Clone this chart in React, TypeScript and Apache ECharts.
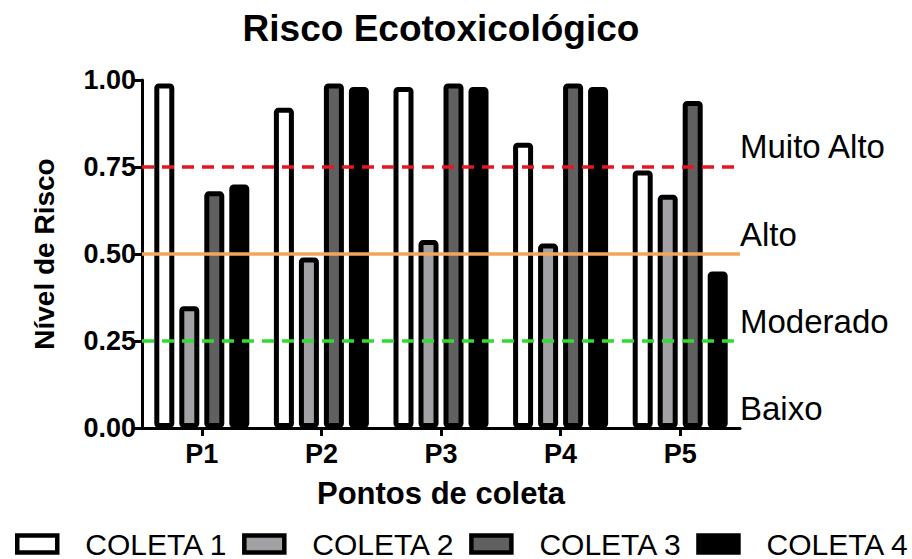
import React, { useEffect, useRef } from "react";
import * as echarts from "echarts";

const categories = ["P1", "P2", "P3", "P4", "P5"];
const seriesNames = ["COLETA 1", "COLETA 2", "COLETA 3", "COLETA 4"];
const coleta1 = [0.99, 0.92, 0.98, 0.82, 0.74];
const coleta2 = [0.35, 0.49, 0.54, 0.53, 0.67];
const coleta3 = [0.68, 0.99, 0.99, 0.99, 0.94];
const coleta4 = [0.7, 0.98, 0.98, 0.98, 0.45];
const seriesColors = ["#ffffff", "#a2a2a6", "#606060", "#000000"];
const thresholdValues = [0.75, 0.5, 0.25];
const thresholdColors = ["#e5171f", "#f4a55c", "#2fdc2f"];
const thresholdTypes: any[] = [[12, 8], "solid", [12, 8]];
const zoneLabels = ["Muito Alto", "Alto", "Moderado", "Baixo"];
const zoneLabelValues = [0.81, 0.555, 0.305, 0.057];

const FONT = "'Liberation Sans', Arial, Helvetica, sans-serif";

export default function App() {
  const ref = useRef<HTMLDivElement>(null);
  useEffect(() => {
    if (!ref.current) return;
    const chart = echarts.init(ref.current, undefined, { renderer: "svg" });
    const allData = [coleta1, coleta2, coleta3, coleta4];
    const series: any[] = seriesNames.map((name, i) => ({
      name,
      type: "bar",
      data: allData[i],
      barWidth: 20,
      barGap: "25%",
      itemStyle: {
        color: seriesColors[i],
        borderColor: "#000",
        borderWidth: 5,
        borderRadius: 2,
      },
      emphasis: { disabled: true },
      z: 2,
    }));
    series[0].markLine = {
      silent: true,
      symbol: ["none", "none"],
      label: { show: false },
      z: 5,
      data: thresholdValues.map((v, i) => ({
        yAxis: v,
        lineStyle: { color: thresholdColors[i], width: 3.5, type: thresholdTypes[i] },
      })),
    };
    chart.setOption({
      animation: false,
      textStyle: { fontFamily: FONT },
      title: {
        text: "Risco Ecotoxicológico",
        left: 441,
        top: 10,
        padding: 0,
        textAlign: "center",
        textStyle: { fontFamily: FONT, fontWeight: "bold", fontSize: 37, color: "#000" },
      },
      grid: { left: 142, top: 80, right: 172, bottom: 131, containLabel: false },
      legend: {
        data: seriesNames,
        left: 15,
        top: 529,
        padding: 0,
        icon: "rect",
        itemWidth: 40,
        itemHeight: 17,
        itemGap: 14,
        itemStyle: { borderColor: "#000", borderWidth: 4.5 },
        textStyle: { fontFamily: FONT, fontSize: 30, color: "#000", padding: [0, 0, 0, 23] },
      },
      xAxis: {
        type: "category",
        data: categories,
        name: "Pontos de coleta",
        nameLocation: "middle",
        nameGap: 50,
        nameTextStyle: { fontFamily: FONT, fontWeight: "bold", fontSize: 31, color: "#000" },
        axisLine: { show: true, lineStyle: { color: "#000", width: 3 } },
        axisTick: { show: true, alignWithLabel: true, length: 8, lineStyle: { color: "#000", width: 3 } },
        axisLabel: { fontFamily: FONT, fontWeight: "bold", fontSize: 27, color: "#000", margin: 12 },
      },
      yAxis: {
        type: "value",
        min: 0,
        max: 1,
        interval: 0.25,
        name: "Nível de Risco",
        nameLocation: "middle",
        nameGap: 84,
        nameTextStyle: { fontFamily: FONT, fontWeight: "bold", fontSize: 28, color: "#000" },
        axisLine: { show: true, lineStyle: { color: "#000", width: 3 } },
        axisTick: { show: true, length: 8, lineStyle: { color: "#000", width: 3 } },
        splitLine: { show: false },
        axisLabel: {
          fontFamily: FONT,
          fontWeight: "bold",
          fontSize: 27,
          color: "#000",
          margin: 6,
          formatter: (v: number) => v.toFixed(2),
        },
      },
      series,
    });
    const graphics = zoneLabels.map((t, i) => {
      const y = chart.convertToPixel({ yAxisIndex: 0 }, zoneLabelValues[i]) as number;
      return {
        type: "text",
        x: 740,
        y,
        style: {
          text: t,
          fontFamily: FONT,
          fontSize: 33,
          fill: "#000",
          verticalAlign: "middle",
          align: "left",
        },
      };
    });
    chart.setOption({ graphic: graphics });
    return () => chart.dispose();
  }, []);
  return (
    <div
      ref={ref}
      style={{ position: "fixed", left: 0, top: 0, width: 912, height: 559, background: "#fff" }}
    />
  );
}
